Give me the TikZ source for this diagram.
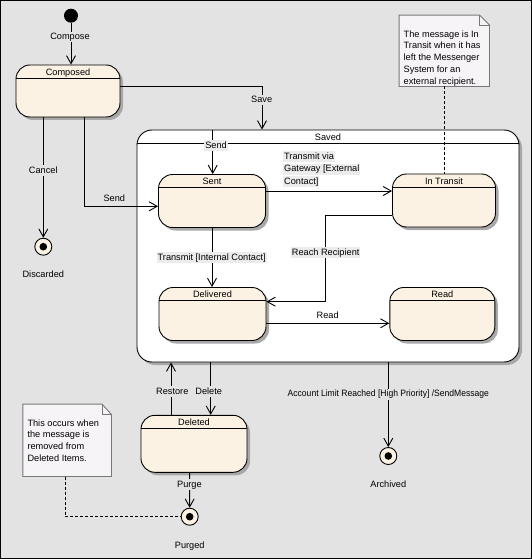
\documentclass[tikz,border=0pt]{standalone}
\usepackage{graphicx}
\usepackage{fontspec}
\setmainfont{Liberation Sans}
\usetikzlibrary{arrows.meta,shadows,calc}
\definecolor{bgc}{RGB}{227,227,227}
\definecolor{statefill}{RGB}{252,242,228}
\definecolor{shadowc}{RGB}{168,168,168}
\definecolor{lblbg}{RGB}{236,236,236}
\definecolor{notefill}{RGB}{247,244,248}
\definecolor{noteline}{RGB}{120,120,120}
\tikzset{
  tr/.style={draw, line width=0.9pt, -{Straight Barb[length=8pt,width=9pt,line width=0.9pt]}},
  st/.style={draw, line width=0.9pt, fill=statefill, rounded corners=14pt, inner sep=0pt,
    drop shadow={shadow xshift=3pt, shadow yshift=-3pt, fill=shadowc, opacity=1},
    path picture={\draw[line width=0.9pt] ([yshift=-13pt]path picture bounding box.north west) -- ([yshift=-13pt]path picture bounding box.north east);}},
  sttitle/.style={anchor=base, inner sep=0pt},
  lbl/.style={inner sep=1pt, text height=6.7pt, text depth=1.9pt},
  lblg/.style={lbl, fill=bgc},
  lblw/.style={lbl, fill=lblbg},
  fin/.style={circle, draw, line width=0.9pt, fill=statefill, minimum size=17pt, inner sep=0pt,
    path picture={\fill[black] (path picture bounding box.center) circle (3.8pt);}},
  notebox/.style={minimum width=#1, inner sep=0pt},
  noteshape/.style={draw=noteline, fill=notefill, line width=0.9pt},
  notetxt/.style={anchor=north west, align=left, inner sep=0pt, font=\fontsize{9.2}{11.7}\selectfont},
  notelink/.style={draw, line width=0.9pt, dash pattern=on 3pt off 2pt}
}
\begin{document}
\begin{tikzpicture}[x=1pt,y=1pt,font=\fontsize{9.2}{11}\selectfont]
\useasboundingbox (0,0) rectangle (532,-559);
\fill[bgc] (0,0) rectangle (532,-559);
\draw[line width=1pt] (0.5,-0.5) rectangle (531.5,-558.5);

% states
\node[circle, fill=black, inner sep=0pt, minimum size=14pt] (init) at (71,-15.7) {};
\node[st, minimum width=104pt, minimum height=52pt] (composed) at (68,-91) {};
\node[sttitle] (composedT) at ([yshift=-11pt]composed.north) {Composed};

\node[st, fill=white, rounded corners=15pt, minimum width=382pt, minimum height=232pt,
  path picture={\draw[line width=0.9pt] ([yshift=-13.5pt]path picture bounding box.north west) -- ([yshift=-13.5pt]path picture bounding box.north east);}] (saved) at (328,-246) {};
\node[sttitle] (savedT) at ([yshift=-10.7pt]saved.north) {Saved};

\node[st, minimum width=107pt, minimum height=53pt] (sent) at (212,-201) {};
\node[sttitle] (sentT) at ([yshift=-10.8pt]sent.north) {Sent};
\node[st, minimum width=103pt, minimum height=53pt] (transit) at (444,-200.5) {};
\node[sttitle] (transitT) at ([yshift=-10.8pt]transit.north) {In Transit};
\node[st, minimum width=107pt, minimum height=53pt] (delivered) at (212.5,-314) {};
\node[sttitle] (deliveredT) at ([yshift=-10.8pt]delivered.north) {Delivered};
\node[st, minimum width=105pt, minimum height=53pt] (read) at (442.3,-314) {};
\node[sttitle] (readT) at ([yshift=-10.8pt]read.north) {Read};
\node[st, minimum width=106pt, minimum height=57pt] (deleted) at (194,-443.8) {};
\node[sttitle] (deletedT) at ([yshift=-10.8pt]deleted.north) {Deleted};

\node[fin] (discarded) at (43.3,-246.7) {};
\node[fin] (purged) at (189.7,-516.7) {};
\node[fin] (archived) at (388.3,-456) {};

% notes
\node[notebox=90pt, minimum height=71pt] (note1) at (444.3,-50.8) {};
\draw[noteshape] (note1.north west) -- ([xshift=-10pt]note1.north east) -- ([yshift=-10pt]note1.north east) -- (note1.south east) -- (note1.south west) -- cycle;
\draw[noteshape, fill=none] ([xshift=-10pt]note1.north east) -- ++(0,-10) -- ++(10,0);
\node[notetxt] (note1t) at (403.5,-30.4) {The message is In\\Transit when it has\\left the Messenger\\System for an\\external recipient.};

\node[notebox=88.3pt, minimum height=72pt] (note2) at (67.15,-440.3) {};
\draw[noteshape] (note2.north west) -- ([xshift=-9.5pt]note2.north east) -- ([yshift=-10.5pt]note2.north east) -- (note2.south east) -- (note2.south west) -- cycle;
\draw[noteshape, fill=none] ([xshift=-9.5pt]note2.north east) -- ++(0,-10.5) -- ++(9.5,0);
\node[notetxt] (note2t) at (27.3,-419.4) {This occurs when\\the message is\\removed from\\Deleted Items.};

% note links
\draw[notelink] (note1.south) -- (note1.south |- transit.north);
\draw[notelink] ([xshift=-1.8pt]note2.south) |- (purged.west);

% transitions
\draw[tr] (init) -- (composed.north -| init);
\draw[tr] (composed.east |- 0,-86) -| (saved.north -| 262,0);
\draw[tr] (saved.north -| 212.7,0) -- (sent.north -| 212.7,0);
\draw[tr] (composed.south -| 43.3,0) -- (discarded);
\draw[tr] (composed.south -| 84.3,0) |- (sent.west |- 0,-206.3);
\draw[tr] (sent.east |- 0,-191) -- (transit.west |- 0,-191);
\draw[tr] (transit.west |- 0,-215) -| (325.7,-301.7) -- (delivered.east |- 0,-301.7);
\draw[tr] (sent.south -| 212,0) -- (delivered.north -| 212,0);
\draw[tr] (delivered.east |- 0,-323.3) -- (read.west |- 0,-323.3);
\draw[tr] (deleted.north -| 171,0) -- (saved.south -| 171,0);
\draw[tr] (saved.south -| 210.7,0) -- (deleted.north -| 210.7,0);
\draw[tr] (deleted.south -| 189.6,0) -- (purged);
\draw[tr] (saved.south -| 388.3,0) -- (archived);

% labels
\node[lblg] (lCompose) at (70,-37) {Compose};
\node[lblg] (lSave) at (261.7,-100) {Save};
\node[lblw] (lSend1) at (216,-145.7) {Send};
\node[lblg] (lCancel) at (43.3,-170.7) {Cancel};
\node[lbl] (lSend2) at (114.3,-199.3) {Send};
\node[lblw, anchor=west] (lTg1) at (283,-156.7) {Transmit via};
\node[lblw, anchor=west] (lTg2) at (283,-169.3) {Gateway [External};
\node[lblw, anchor=west] (lTg3) at (283,-181.7) {Contact]};
\node[lblw] (lInternal) at (211.7,-257.7) {Transmit [Internal Contact]};
\node[lblw] (lReach) at (325.7,-252.7) {Reach Recipient};
\node[lbl] (lRead) at (327.7,-315.7) {Read};
\node[lblg] (lRestore) at (172.3,-391.7) {Restore};
\node[lblg] (lDelete) at (208.7,-391.7) {Delete};
\node[lblg] (lArchive) at (388.3,-394.3) {\scalebox{0.93}[1]{Account Limit Reached [High Priority] /SendMessage}};
\node[lblg] (lPurge) at (189.4,-484.7) {Purge};
\node[lbl] (lDiscarded) at (43.3,-274.7) {Discarded};
\node[lbl] (lArchived) at (388.3,-484.7) {Archived};
\node[lbl] (lPurged) at (189.7,-545.7) {Purged};
\end{tikzpicture}
\end{document}
